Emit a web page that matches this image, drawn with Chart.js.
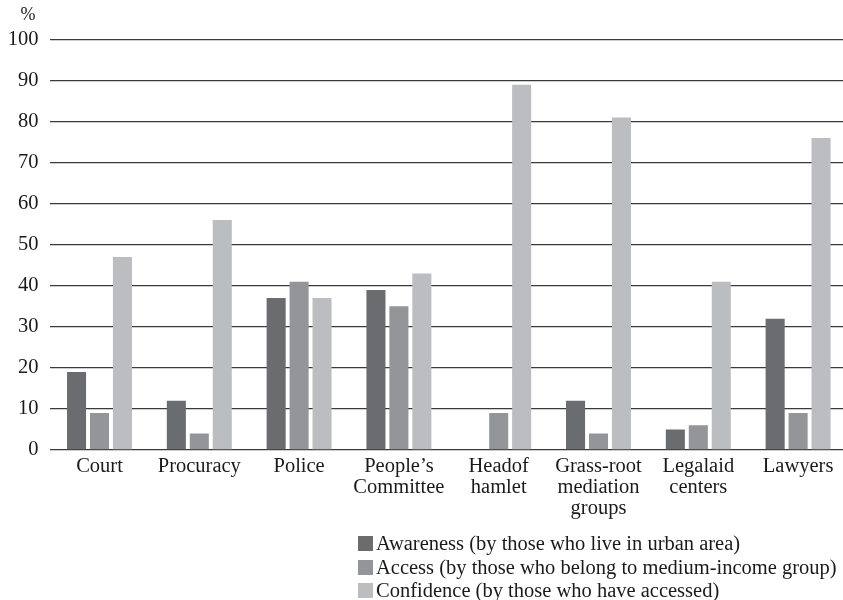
<!DOCTYPE html>
<html>
<head>
<meta charset="utf-8">
<script src="https://cdn.jsdelivr.net/npm/chart.js@4"></script>
<style>
  body { margin: 0; background: #fff; }
  #wrap { position: relative; width: 843px; height: 600px; overflow: hidden; }
  #legend { position: absolute; left: 358px; top: 532px; font-family: "Liberation Serif", "Times New Roman", serif; font-size: 20.5px; color: #1a1a1a; line-height: 23.5px; }
  #legend div { display: flex; align-items: center; white-space: nowrap; }
  #legend span.box { display: inline-block; width: 15px; height: 15px; margin-right: 3px; }
</style>
</head>
<body>
<div id="wrap">
  <canvas id="chart" width="848" height="600"></canvas>
  <div id="legend"></div>
</div>
<script>
const categories = [
	"Court", "Procuracy", "Police", ["People\u2019s", "Committee"], ["Headof", "hamlet"],
	["Grass-root", "mediation", "groups"], ["Legalaid", "centers"], "Lawyers"
];
const awareness = [19, 12, 37, 39, 0, 12, 5, 32];
const access = [9, 4, 41, 35, 9, 4, 6, 9];
const confidence = [47, 56, 37, 43, 89, 81, 41, 76];
const seriesLabels = [
	"Awareness (by those who live in urban area)",
	"Access (by those who belong to medium-income group)",
	"Confidence (by those who have accessed)"
];
const yTicks = [0, 10, 20, 30, 40, 50, 60, 70, 80, 90, 100];
const bgColor = ["#6b6c70", "#949598", "#bcbdc1"];

const serif = "'Liberation Serif', 'Times New Roman', serif";

const percentLabel = {
	id: 'percentLabel',
	afterDraw(chart) {
		const ctx = chart.ctx;
		ctx.save();
		ctx.font = "18px " + serif;
		ctx.fillStyle = "#1a1a1a";
		ctx.textAlign = "center";
		ctx.textBaseline = "middle";
		ctx.fillText("%", 28, 15);
		ctx.restore();
	}
};

const chart = new Chart(document.getElementById('chart').getContext('2d'), {
	type: 'bar',
	data: {
		labels: categories,
		datasets: [awareness, access, confidence].map((d, i) => ({
			label: seriesLabels[i],
			data: d,
			backgroundColor: bgColor[i],
			categoryPercentage: 0.69,
			barPercentage: 0.83
		}))
	},
	options: {
		responsive: false,
		animation: false,
		layout: { padding: { top: 39.5, right: 0, left: 0, bottom: 0 } },
		plugins: {
			legend: { display: false },
			tooltip: { enabled: false }
		},
		scales: {
			x: {
				grid: { display: false, drawTicks: false },
				border: { display: false },
				ticks: {
					color: "#1a1a1a",
					font: { family: serif, size: 20.5, lineHeight: 1.03 },
					padding: 6,
					maxRotation: 0,
					autoSkip: false
				},
				afterFit(scale) { scale.height = 150; }
			},
			y: {
				min: 0,
				max: 100,
				afterBuildTicks(scale) { scale.ticks = yTicks.map(v => ({ value: v })); },
				grid: { color: "#3a3a3a", lineWidth: 1.3, drawTicks: false },
				border: { display: false },
				ticks: {
					color: "#1a1a1a",
					font: { family: serif, size: 20.5 },
					padding: 11
				},
				afterFit(scale) { scale.width = 49.6; }
			}
		}
	},
	plugins: [percentLabel]
});

const legend = document.getElementById('legend');
chart.data.datasets.forEach(ds => {
	const row = document.createElement('div');
	const box = document.createElement('span');
	box.className = 'box';
	box.style.background = ds.backgroundColor;
	row.appendChild(box);
	row.appendChild(document.createTextNode(ds.label));
	legend.appendChild(row);
});
</script>
</body>
</html>
